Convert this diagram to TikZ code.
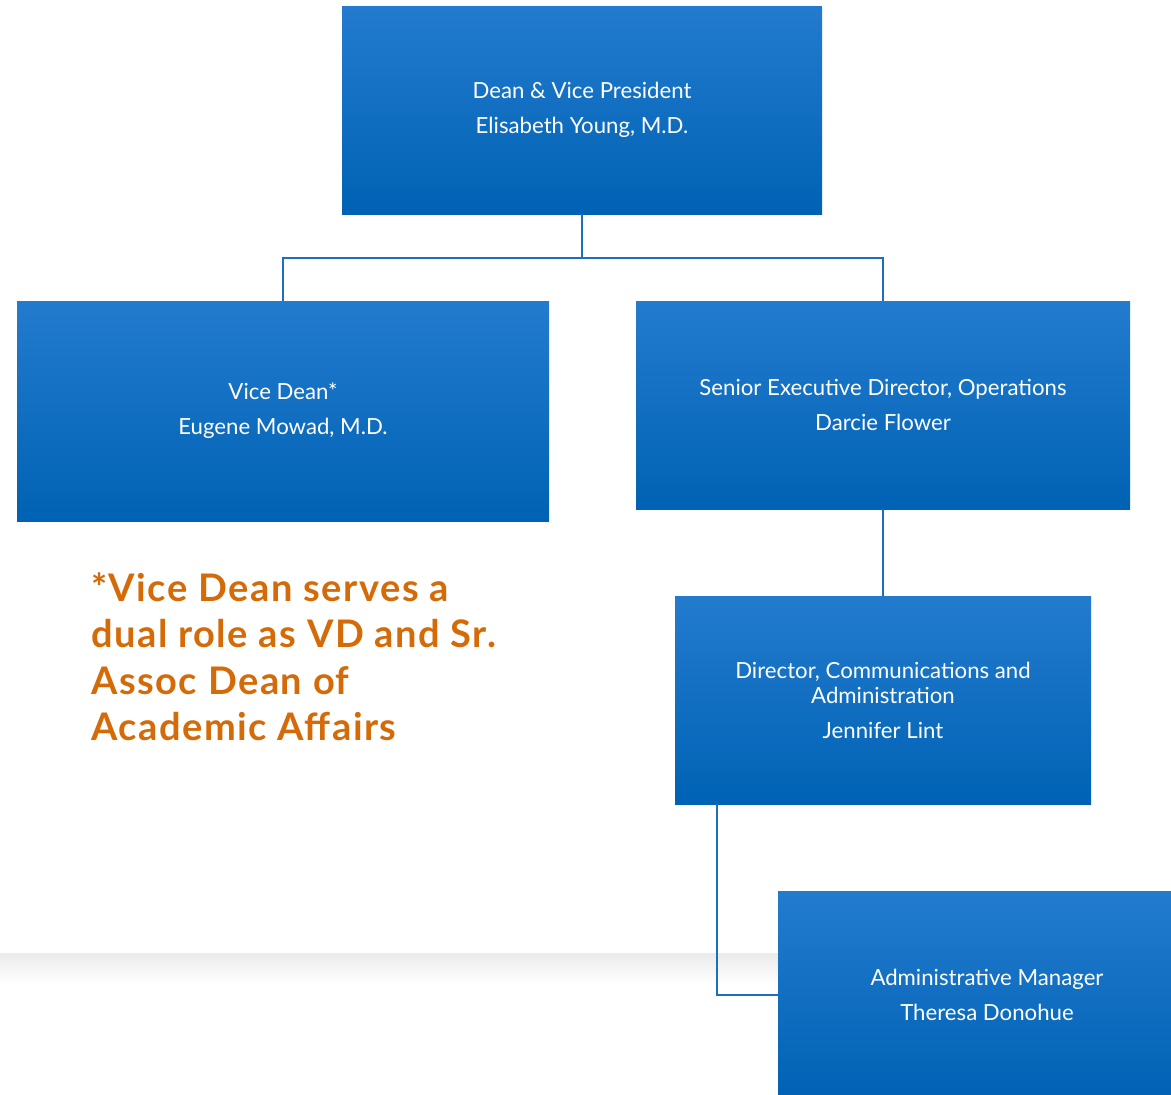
\documentclass[tikz,border=0pt]{standalone}
\usepackage{fontspec}
\setmainfont{Lato}
\definecolor{boxtop}{HTML}{237BCE}
\definecolor{boxbot}{HTML}{0062B4}
\definecolor{linkblue}{HTML}{1E6EBE}
\definecolor{noteorange}{HTML}{D46B08}
\tikzset{
  orgbox/.style={rectangle, top color=boxtop, bottom color=boxbot, draw=none,
    text=white, align=center, inner sep=0pt,
    font=\fontsize{22.2}{25}\selectfont},
  link/.style={draw=linkblue, line width=2pt},
}
\begin{document}
\begin{tikzpicture}[x=1pt,y=-1pt]
\useasboundingbox (0,0) rectangle (1171,1095);
\clip (0,0) rectangle (1171,1095);
% faint shadow band
\fill[top color=black!8, bottom color=white] (0,953) rectangle (780,985);
% boxes
\node[orgbox, minimum width=480pt, minimum height=208pt] (dean) at (582,110)
  {Dean \& Vice President\\[10pt]Elisabeth Young, M.D.};
\node[orgbox, minimum width=532pt, minimum height=220pt] (vice) at (283,411)
  {Vice Dean*\\[10pt]Eugene Mowad, M.D.};
\node[orgbox, minimum width=494pt, minimum height=208pt] (sed) at (883,405)
  {Senior Executive Director, Operations\\[10pt]Darcie Flower};
\node[orgbox, minimum width=416pt, minimum height=208pt] (dir) at (883,700)
  {Director, Communications and\\Administration\\[10pt]Jennifer Lint};
\node[orgbox, minimum width=418pt, minimum height=207pt] (adm) at (987,994.5)
  {Administrative Manager\\[10pt]Theresa Donohue};
% connectors
\coordinate (bus) at (582,258);
\draw[link] (dean.south) -- (bus);
\draw[link] (vice.north) |- (bus) -| (sed.north);
\draw[link] (sed.south) -- (dir.north);
\coordinate (dd) at (717,804);
\draw[link] (dd) |- (adm.west);
% note
\node[anchor=north west, text=noteorange, align=left, inner sep=0pt,
  font=\bfseries\fontsize{38}{46.5}\selectfont\addfontfeatures{LetterSpace=4}] (note) at (91,572)
  {*Vice Dean serves a\\dual role as VD and Sr.\\Assoc Dean of\\Academic Affairs};
\end{tikzpicture}
\end{document}
